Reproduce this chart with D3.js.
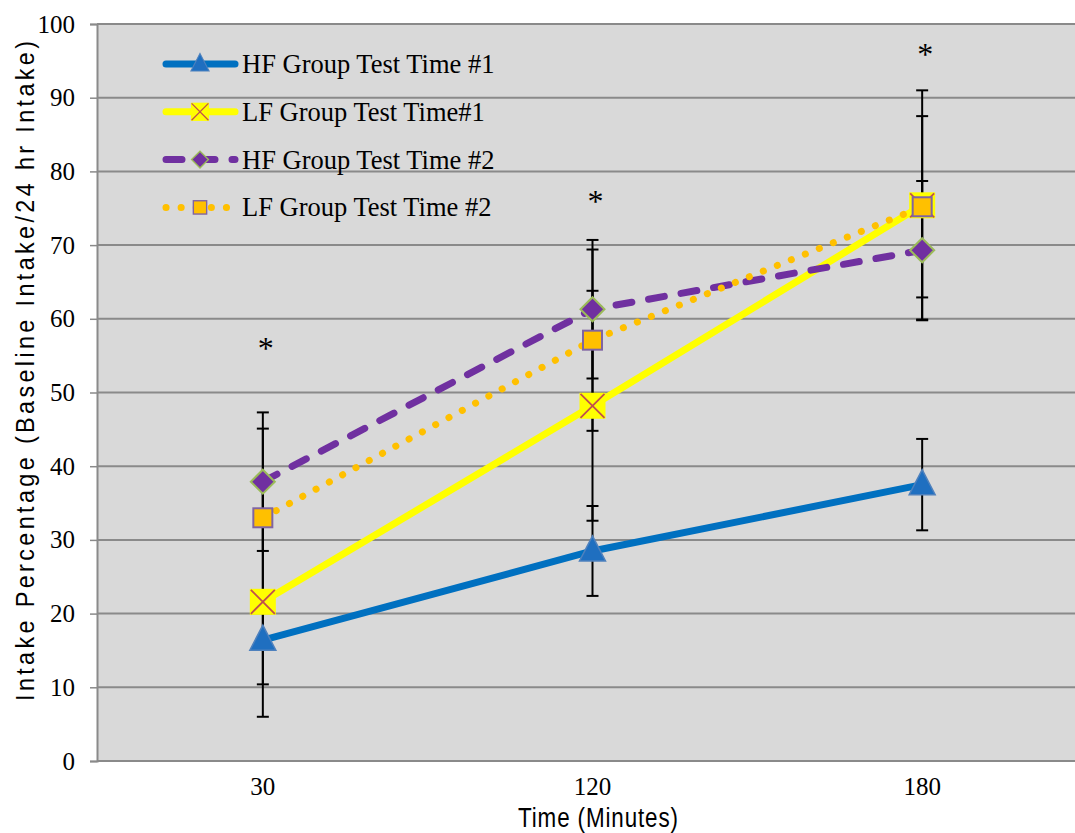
<!DOCTYPE html>
<html>
<head>
<meta charset="utf-8">
<script src="https://cdn.jsdelivr.net/npm/d3@7"></script>
<style>
  body { margin: 0; background: #fff; }
  svg { display: block; }
</style>
</head>
<body>
<div id="chart"></div>
<script>
const categories = ['30', '120', '180']
const yTicks = [0, 10, 20, 30, 40, 50, 60, 70, 80, 90, 100]

const hf1Values = [16.4, 28.5, 37.5]
const hf1Errors = [6.0, 6.1, 6.2]
const lf1Values = [21.6, 48.2, 75.4]
const lf1Errors = [15.6, 15.6, 15.6]
const hf2Values = [37.9, 61.3, 69.3]
const hf2Errors = [9.4, 9.4, 9.4]
const lf2Values = [33.0, 57.1, 75.2]
const lf2Errors = [12.1, 12.3, 12.3]

const seriesNames = ['HF Group Test Time #1', 'LF Group Test Time#1', 'HF Group Test Time #2', 'LF Group Test Time #2']
const asteriskValues = [54.5, 74.5, 94.5]

const width = 1075
const height = 833
const margin = { left: 97, top: 24, bottom: 72 }
const serif = "'Liberation Serif', 'Times New Roman', serif"
const sans = "'Liberation Sans Narrow', 'Arial Narrow', 'Liberation Sans', sans-serif"

const svg = d3.select('#chart').append('svg')
  .attr('width', width)
  .attr('height', height)

const x = d3.scalePoint()
  .domain(categories)
  .range([98, 1087])
  .padding(0.5)

const y = d3.scaleLinear()
  .domain([0, 100])
  .range([height - margin.bottom, margin.top])

// plot background
svg.append('rect')
  .attr('x', margin.left)
  .attr('y', y(100))
  .attr('width', width - margin.left)
  .attr('height', y(0) - y(100))
  .attr('fill', '#d9d9d9')

// gridlines
svg.append('g')
  .selectAll('line')
  .data(yTicks)
  .join('line')
  .attr('x1', margin.left)
  .attr('x2', width)
  .attr('y1', d => y(d))
  .attr('y2', d => y(d))
  .attr('stroke', '#8a8a8a')
  .attr('stroke-width', 2)

// y axis
const yAxis = svg.append('g')
  .attr('transform', `translate(${margin.left},0)`)
  .call(d3.axisLeft(y).tickValues(yTicks).tickSize(7).tickPadding(15))
yAxis.select('.domain').attr('stroke', '#8a8a8a').attr('stroke-width', 2)
yAxis.selectAll('.tick line').attr('stroke', '#8a8a8a').attr('stroke-width', 1.5)
yAxis.selectAll('.tick text')
  .attr('font-family', serif)
  .attr('font-size', 25)
  .attr('fill', '#000')

// x axis labels
svg.append('g')
  .selectAll('text')
  .data(categories)
  .join('text')
  .attr('x', d => x(d))
  .attr('y', 795)
  .attr('text-anchor', 'middle')
  .attr('font-family', serif)
  .attr('font-size', 25)
  .text(d => d)

// axis titles: condensed glyphs, spread out
svg.append('text')
  .attr('transform', 'translate(598,827) scale(0.8,1)')
  .attr('text-anchor', 'middle')
  .attr('font-family', sans)
  .attr('font-size', 28)
  .attr('textLength', 200)
  .attr('lengthAdjust', 'spacing')
  .text('Time (Minutes)')

svg.append('text')
  .attr('transform', 'translate(34,371) rotate(-90) scale(0.9,1)')
  .attr('text-anchor', 'middle')
  .attr('font-family', sans)
  .attr('font-size', 26)
  .attr('textLength', 660 / 0.9)
  .attr('lengthAdjust', 'spacing')
  .text('Intake Percentage (Baseline  Intake/24 hr  Intake)')

const series = [
  { name: seriesNames[0], values: hf1Values, errors: hf1Errors, color: '#0070c0', dash: null, marker: 'triangle' },
  { name: seriesNames[1], values: lf1Values, errors: lf1Errors, color: '#ffff00', dash: null, marker: 'cross' },
  { name: seriesNames[2], values: hf2Values, errors: hf2Errors, color: '#7030a0', dash: '16 17', marker: 'diamond' },
  { name: seriesNames[3], values: lf2Values, errors: lf2Errors, color: '#ffc000', dash: '0.1 15', marker: 'square' }
]

const line = d3.line()
  .x((d, i) => x(categories[i]))
  .y(d => y(d))

function drawMarker(g, type, cx, cy, k) {
  const m = g.append('g').attr('transform', `translate(${cx},${cy}) scale(${k})`)
  if (type === 'triangle') {
    m.append('path')
      .attr('d', 'M0,-15L13,10L-13,10Z')
      .attr('fill', '#1f6fc0')
      .attr('stroke', '#4f81bd')
      .attr('stroke-width', 1.5)
  } else if (type === 'cross') {
    m.append('rect')
      .attr('x', -13).attr('y', -13)
      .attr('width', 26).attr('height', 26)
      .attr('fill', '#ffff00')
    m.append('path')
      .attr('d', 'M-12,-12L12,12M12,-12L-12,12')
      .attr('stroke', '#c0504d')
      .attr('stroke-width', 1.8)
  } else if (type === 'diamond') {
    m.append('path')
      .attr('d', 'M0,-12L12,0L0,12L-12,0Z')
      .attr('fill', '#7030a0')
      .attr('stroke', '#9bbb59')
      .attr('stroke-width', 2)
  } else {
    m.append('rect')
      .attr('x', -9.5).attr('y', -9.5)
      .attr('width', 19).attr('height', 19)
      .attr('fill', '#ffc000')
      .attr('stroke', '#8064a2')
      .attr('stroke-width', 2)
  }
}

// lines
const linesG = svg.append('g')
series.forEach(s => {
  linesG.append('path')
    .datum(s.values)
    .attr('d', line)
    .attr('fill', 'none')
    .attr('stroke', s.color)
    .attr('stroke-width', 7)
    .attr('stroke-linecap', 'round')
    .attr('stroke-dasharray', s.dash)
})

// error bars
const errG = svg.append('g')
series.forEach(s => {
  s.values.forEach((v, i) => {
    const cx = x(categories[i])
    const lo = y(v - s.errors[i])
    const hi = y(v + s.errors[i])
    errG.append('line')
      .attr('x1', cx).attr('x2', cx).attr('y1', lo).attr('y2', hi)
      .attr('stroke', '#000').attr('stroke-width', 2)
    ;[lo, hi].forEach(yy => {
      errG.append('line')
        .attr('x1', cx - 6).attr('x2', cx + 6).attr('y1', yy).attr('y2', yy)
        .attr('stroke', '#000').attr('stroke-width', 2)
    })
  })
})

// markers
const markG = svg.append('g')
series.forEach(s => {
  s.values.forEach((v, i) => drawMarker(markG, s.marker, x(categories[i]), y(v), 1))
})

// significance asterisks
svg.append('g')
  .selectAll('text')
  .data(asteriskValues)
  .join('text')
  .attr('x', (d, i) => x(categories[i]) + 3)
  .attr('y', d => y(d))
  .attr('text-anchor', 'middle')
  .attr('font-family', serif)
  .attr('font-size', 32)
  .text('*')

// legend
const legend = svg.append('g')
series.forEach((s, i) => {
  const ly = 64 + i * 47.8
  const row = legend.append('g')
  row.append('line')
    .attr('x1', 166).attr('x2', 235)
    .attr('y1', ly).attr('y2', ly)
    .attr('stroke', s.color)
    .attr('stroke-width', 7)
    .attr('stroke-linecap', 'round')
    .attr('stroke-dasharray', s.dash)
  drawMarker(row, s.marker, 200, ly, 0.7)
  row.append('text')
    .attr('x', 242)
    .attr('y', ly + 9)
    .attr('font-family', serif)
    .attr('font-size', 26.5)
    .text(s.name)
})
</script>
</body>
</html>
